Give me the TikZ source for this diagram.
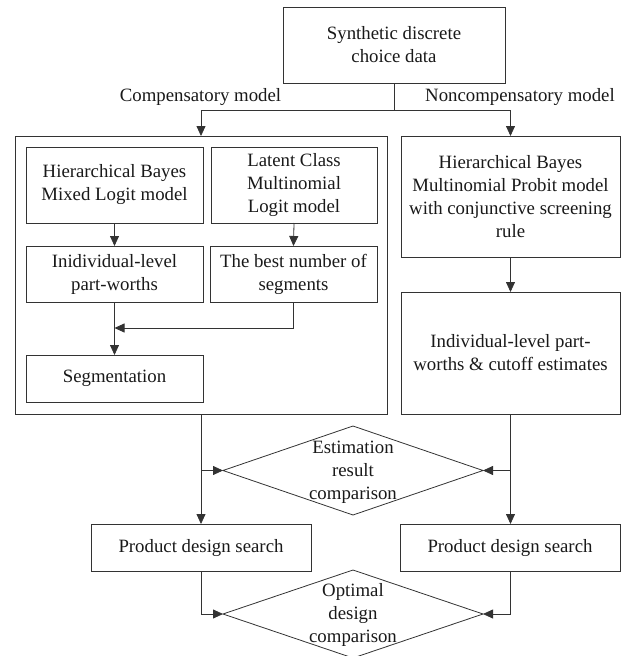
\documentclass[tikz,border=0pt]{standalone}
\usepackage{fontspec}
\setmainfont{Liberation Serif}
\usetikzlibrary{arrows.meta,shapes.geometric}
\begin{document}
\begin{tikzpicture}[x=1pt,y=-1pt,
  every node/.style={font=\fontsize{18.8}{23}\selectfont, text=black!90},
  box/.style={draw=black!80, line width=0.8pt, align=center, inner sep=0pt, outer sep=0pt},
  dia/.style={draw=black!80, line width=0.8pt, shape=diamond, inner sep=0pt, outer sep=0pt},
  conn/.style={draw=black!80, line width=0.8pt},
  arr/.style={conn, -{Triangle[length=10pt,width=9pt]}},
  lbl/.style={align=center, inner sep=0pt}]
\clip (0,0) rectangle (625,656);
\useasboundingbox (0,0) rectangle (625,656);

% top
\node[box, minimum width=222pt, minimum height=76pt] (top) at (394,45) {Synthetic discrete\\choice data};
\coordinate (split) at (394,110);
\node[lbl] (lblC) at (200.5,97) {Compensatory model};
\node[lbl] (lblN) at (520,97) {Noncompensatory model};

% left container
\node[box, minimum width=372pt, minimum height=278pt] (leftbox) at (201,275) {};
\node[box, minimum width=177pt, minimum height=76pt] (hb) at (114.5,185) {Hierarchical Bayes\\Mixed Logit model};
\node[box, minimum width=166pt, minimum height=76pt] (lc) at (294,185) {Latent Class\\Multinomial\\Logit model};
\node[box, minimum width=177pt, minimum height=56pt] (ind) at (114.5,274) {Inidividual-level\\part-worths};
\node[box, minimum width=167pt, minimum height=56pt] (best) at (293.5,274) {The best number of\\segments};
\node[box, minimum width=177pt, minimum height=47pt] (seg) at (114.5,378.5) {Segmentation};
\coordinate (merge) at (114.5,328);

% right column
\node[box, minimum width=219pt, minimum height=121pt] (hbmnp) at (510.5,196.5) {Hierarchical Bayes\\Multinomial Probit model\\with conjunctive screening\\rule};
\node[box, minimum width=219pt, minimum height=122pt] (indr) at (510.5,353) {Individual-level part-\\worths \& cutoff estimates};

% diamonds
\node[dia, minimum width=260pt, minimum height=89pt] (d1) at (353,470.5) {};
\node[lbl] (d1t) at (353,472) {Estimation\\result\\comparison};
\node[box, minimum width=220pt, minimum height=47pt] (pdsl) at (201,547.5) {Product design search};
\node[box, minimum width=220pt, minimum height=47pt] (pdsr) at (510,547.5) {Product design search};
\node[dia, minimum width=260pt, minimum height=88pt] (d2) at (353,614) {};
\node[lbl] (d2t) at (353,615) {Optimal\\design\\comparison};

% connectors
\draw[conn] (top.south) -- (split);
\draw[arr] (split) -| (leftbox.north);
\draw[arr] (split) -| (hbmnp.north);
\draw[arr] (hb.south) -- (ind.north);
\draw[arr] (lc.south) -- (best.north);
\draw[arr] (ind.south) -- (seg.north);
\draw[arr] (best.south) |- (merge);
\draw[arr] (hbmnp.south) -- (indr.north);
\draw[arr] (leftbox.south) -- (leftbox.south |- pdsl.north);
\draw[arr] (indr.south) -- (indr.south |- pdsr.north);
\coordinate (bl) at (leftbox.south |- d1.west);
\coordinate (br) at (indr.south |- d1.east);
\draw[arr] (bl) -- (d1.west);
\draw[arr] (br) -- (d1.east);
\draw[arr] (pdsl.south) |- (d2.west);
\draw[arr] (pdsr.south) |- (d2.east);
\end{tikzpicture}
\end{document}
